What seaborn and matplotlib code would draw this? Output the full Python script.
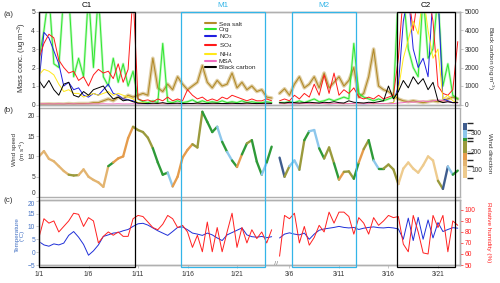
import numpy as np
import matplotlib
matplotlib.use("Agg")
import matplotlib.pyplot as plt
import matplotlib.transforms as mtransforms
from matplotlib.collections import LineCollection
from matplotlib.colors import ListedColormap, BoundaryNorm
from matplotlib.lines import Line2D
from matplotlib.patches import Rectangle
import seaborn as sns

sns.set_theme(style="ticks")
plt.rcParams["font.family"] = ["Liberation Sans", "DejaVu Sans"]
plt.rcParams["mathtext.default"] = "regular"

# --- time grids (day of month), January segment and March segment ---
JAN_DAYS = np.arange(1.0, 24.75, 0.5)
MAR_DAYS = np.arange(5.0, 23.25, 0.5)
MAR_SHIFT = 19.3  # March day -> position on the broken axis


def jan_x(d):
    return np.asarray(d, float) - 1.0


def mar_x(d):
    return np.asarray(d, float) + MAR_SHIFT


# --- panel (a): aerosol mass concentrations (ug m-3), BC in ng m-3 ---
SEASALT_JAN = [0.02, 0.02, 0.03, 0.02, 0.03, 0.02, 0.05, 0.03, 0.05, 0.05,
               0.05, 0.1, 0.1, 0.2, 0.3, 0.2, 0.4, 0.3, 0.5, 0.4,
               0.5, 0.6, 0.5, 2.5, 0.9, 0.7, 1.1, 0.8, 1.5, 1.1,
               0.8, 1.0, 1.2, 2.1, 1.2, 0.9, 1.3, 1.0, 1.1, 1.7,
               0.9, 1.2, 0.8, 1.0, 0.7, 0.8, 0.4, 0.35]
SEASALT_MAR = [0.6, 0.85, 0.5, 1.1, 1.5, 0.9, 1.1, 1.5, 0.9, 1.7,
               0.9, 1.2, 1.5, 1.0, 1.3, 2.0, 0.4, 0.6, 1.5, 3.0,
               1.0, 0.8, 0.7, 0.5, 0.3, 0.2, 0.15, 0.2, 0.15, 0.1,
               0.15, 0.2, 0.15, 0.2, 0.3, 0.4, 0.3]

ORG_JAN = [2.5, 4.0, 6.0, 2.2, 2.0, 6.0, 6.0, 1.5, 2.5, 1.5,
           6.0, 2.0, 6.0, 1.5, 1.0, 2.5, 1.2, 2.2, 1.0, 1.8,
           0.3, 0.15, 0.1, 0.2, 0.1, 3.3, 0.15, 0.1, 0.2, 0.1,
           0.15, 0.25, 0.1, 0.2, 0.1, 0.15, 0.1, 0.2, 0.1, 0.15,
           0.1, 0.2, 0.1, 0.15, 0.1, 0.1, 0.15, 0.1]
ORG_MAR = [0.1, 0.1, 0.15, 0.1, 0.2, 0.1, 0.2, 0.3, 0.15, 0.2,
           0.3, 0.2, 0.3, 0.4, 0.3, 3.3, 0.6, 0.4, 0.3, 0.2,
           0.3, 0.2, 0.3, 0.4, 6.0, 6.0, 3.0, 2.0, 1.5, 6.0,
           2.5, 3.0, 6.0, 1.0, 2.2, 0.5, 0.3]

NO3_JAN = [1.2, 3.9, 3.6, 2.9, 2.2, 1.0, 1.2, 0.8, 0.9, 0.5,
           0.4, 0.6, 0.5, 0.8, 1.1, 0.6, 0.5, 0.3, 0.25, 0.2,
           0.05, 0.05, 0.04, 0.05, 0.06, 0.05, 0.04, 0.05, 0.05, 0.04,
           0.05, 0.06, 0.05, 0.04, 0.05, 0.05, 0.06, 0.05, 0.04, 0.05,
           0.05, 0.04, 0.05, 0.05, 0.06, 0.05, 0.04, 0.05]
NO3_MAR = [0.05, 0.06, 0.05, 0.04, 0.05, 0.06, 0.05, 0.05, 0.06, 0.05,
           0.04, 0.05, 0.06, 0.05, 0.05, 0.06, 0.05, 0.04, 0.05, 0.06,
           0.05, 0.05, 0.06, 0.1, 1.0, 4.5, 6.0, 3.0, 2.0, 2.5,
           1.5, 6.0, 6.0, 0.3, 0.2, 0.1, 0.1]

SO4_JAN = [2.5, 3.3, 3.8, 3.6, 2.4, 2.0, 1.7, 1.8, 1.3, 1.5,
           1.0, 1.6, 1.9, 1.7, 1.8, 1.4, 2.2, 1.2, 1.9, 6.0,
           0.3, 0.2, 0.25, 0.15, 0.3, 0.2, 0.4, 0.2, 0.3, 0.2,
           0.8, 0.5, 0.3, 0.4, 0.2, 0.3, 0.2, 0.4, 0.3, 0.5,
           0.4, 0.3, 0.2, 0.3, 0.2, 0.2, 0.3, 0.2]
SO4_MAR = [0.2, 0.3, 0.2, 0.5, 0.3, 0.6, 0.4, 1.1, 0.5, 1.6,
           0.6, 1.7, 0.5, 0.8, 0.6, 0.9, 0.4, 0.3, 0.4, 0.3,
           0.5, 0.3, 0.4, 0.5, 2.5, 6.0, 6.0, 4.0, 6.0, 6.0,
           6.0, 4.5, 1.0, 0.6, 0.5, 0.8, 3.4]

NH4_JAN = [1.6, 1.9, 1.8, 1.6, 1.1, 0.7, 0.8, 0.6, 0.6, 0.4,
           0.5, 0.6, 0.5, 0.6, 0.7, 0.5, 0.6, 0.5, 0.4, 0.3,
           0.1, 0.08, 0.06, 0.05, 0.06, 0.05, 0.05, 0.06, 0.05, 0.05,
           0.06, 0.05, 0.05, 0.06, 0.05, 0.05, 0.06, 0.05, 0.05, 0.06,
           0.05, 0.05, 0.06, 0.05, 0.05, 0.06, 0.05, 0.05]
NH4_MAR = [0.05, 0.05, 0.06, 0.05, 0.05, 0.06, 0.05, 0.05, 0.06, 0.05,
           0.05, 0.06, 0.05, 0.05, 0.06, 0.05, 0.05, 0.06, 0.05, 0.05,
           0.06, 0.05, 0.06, 0.1, 0.8, 2.5, 3.5, 4.5, 3.8, 6.0,
           4.0, 2.5, 3.0, 0.3, 0.5, 0.2, 0.1]

MSA_JAN = [0.03, 0.04, 0.03, 0.03, 0.04, 0.03, 0.03, 0.04, 0.03, 0.03,
           0.04, 0.03, 0.03, 0.04, 0.03, 0.03, 0.04, 0.03, 0.03, 0.04,
           0.03, 0.03, 0.04, 0.03, 0.03, 0.04, 0.03, 0.03, 0.04, 0.03,
           0.03, 0.04, 0.03, 0.03, 0.04, 0.03, 0.03, 0.04, 0.03, 0.03,
           0.04, 0.03, 0.03, 0.04, 0.03, 0.03, 0.04, 0.03]
MSA_MAR = [0.05, 0.04, 0.05, 0.05, 0.04, 0.05, 0.05, 0.04, 0.05, 0.05,
           0.04, 0.05, 0.05, 0.04, 0.05, 0.05, 0.04, 0.05, 0.05, 0.04,
           0.05, 0.05, 0.04, 0.05, 0.08, 0.1, 0.15, 0.12, 0.15, 0.2,
           0.15, 0.2, 0.25, 0.2, 0.15, 0.1, 0.08]

BC_JAN = [1300, 900, 1300, 800, 500, 1100, 1200, 500, 400, 700,
          500, 800, 900, 1000, 600, 300, 400, 200, 250, 150,
          80, 60, 50, 70, 60, 100, 50, 60, 70, 50,
          60, 50, 80, 60, 50, 70, 60, 50, 60, 70,
          50, 60, 80, 60, 50, 60, 70, 60]
BC_MAR = [100, 80, 120, 100, 80, 100, 120, 100, 80, 120,
          100, 150, 100, 80, 200, 120, 100, 80, 120, 100,
          150, 200, 1000, 300, 700, 1300, 900, 1500, 1100, 1400,
          800, 1200, 200, 100, 150, 100, 120]

# --- panel (b): wind speed (m s-1) and wind direction (deg) ---
WS_JAN = [10.0, 11.3, 9.4, 8.8, 7.6, 6.4, 5.5, 5.3, 5.4, 6.8,
          5.0, 4.2, 3.6, 2.5, 7.6, 8.5, 9.5, 10.0, 14.5, 17.3,
          16.5, 16.0, 14.6, 12.0, 8.5, 5.5, 6.0, 2.6, 5.0, 9.7,
          11.6, 13.0, 12.2, 21.0, 18.5, 16.0, 17.3, 13.6, 11.1, 9.0,
          7.4, 10.5, 13.2, 14.0, 8.7, 5.5, 8.5, 12.4]
WD_JAN = [135, 135, 135, 135, 135, 135, 220, 220, 135, 135,
          135, 135, 135, 135, 262, 170, 170, 170, 170, 220,
          220, 220, 220, 262, 262, 262, 295, 170, 170, 170,
          170, 220, 220, 262, 262, 262, 295, 262, 295, 262,
          170, 262, 220, 262, 262, 295, 262, 170]
WS_MAR = [9.7, 5.0, 7.6, 9.0, 6.7, 14.0, 16.2, 16.5, 12.0, 9.5,
          12.2, 8.3, 4.3, 6.2, 6.3, 4.5, 8.5, 11.8, 14.0, 9.0,
          7.0, 7.0, 8.0, 6.8, 3.2, 7.0, 8.5, 7.0, 6.0, 7.8,
          10.0, 9.0, 4.0, 2.0, 7.5, 5.5, 6.5]
WD_MAR = [335, 220, 295, 295, 220, 262, 295, 295, 262, 220,
          220, 262, 170, 220, 220, 262, 170, 220, 262, 295,
          262, 220, 220, 220, 110, 110, 110, 110, 110, 110,
          110, 110, 220, 335, 295, 262, 262]

WD_BOUNDS = [56, 119, 155, 191, 254, 272, 317, 354]
WD_COLORS = ["#EECB8E", "#E3B470", "#E59C4C", "#9A9A3C",
             "#2E9A38", "#8DC7EC", "#3F5D8E"]

# --- panel (c): temperature (degC) and relative humidity (%) ---
T_JAN = [4.1, 2.8, 2.3, 3.2, 2.8, 3.5, 6.5, 8.0, 5.8, 3.0,
         -1.2, 0.5, 2.8, 6.1, 6.7, 7.4, 7.6, 8.3, 8.8, 10.0,
         11.0, 11.2, 10.5, 9.4, 8.3, 7.4, 6.5, 8.0, 9.6, 9.8,
         8.7, 7.4, 7.0, 6.5, 7.4, 6.7, 5.5, 4.5, 6.7, 7.6,
         8.5, 9.4, 6.7, 6.0, 5.8, 6.1, 5.6, 6.0]
T_MAR = [5.5, 7.0, 7.5, 7.0, 6.7, 7.4, 5.0, 7.0, 8.5, 9.0,
         9.3, 9.6, 10.0, 9.6, 9.4, 9.6, 8.8, 9.3, 9.6, 9.8,
         9.5, 9.4, 9.6, 9.4, 9.0, 5.0, 13.2, 4.5, 13.5, 5.0,
         12.5, 5.5, 11.5, 8.0, 8.8, 9.5, 9.3]
RH_JAN = [75, 92, 88, 90, 80, 85, 90, 97, 96, 85,
          93, 90, 70, 76, 80, 77, 80, 76, 76, 92,
          95, 94, 89, 84, 82, 87, 95, 92, 84, 86,
          80, 66, 77, 62, 89, 62, 84, 62, 80, 97,
          66, 84, 70, 82, 74, 80, 70, 82]
RH_MAR = [58, 95, 92, 97, 70, 85, 68, 75, 86, 80,
          98, 88, 98, 98, 94, 78, 93, 88, 78, 93,
          86, 90, 95, 93, 94, 69, 62, 95, 80, 61,
          60, 95, 84, 95, 62, 90, 86]

# --- periods and ticks ---
PERIODS = [  # label, (month, start day), (month, end day), color
    ("C1", (1, 1.0), (1, 10.7), "black"),
    ("M1", (1, 15.34), (1, 23.83), "#33B5E8"),
    ("M2", (3, 6.26), (3, 12.72), "#33B5E8"),
    ("C2", (3, 16.86), (3, 22.72), "black"),
]
JAN_TICKS = [1, 6, 11, 16, 21]
MAR_TICKS = [6, 11, 16, 21]
TICK_LABELS = ["1/1", "1/6", "1/11", "1/16", "1/21", "3/6", "3/11", "3/16", "3/21"]

COLORS = {
    "Sea salt": "#B38B2A",
    "Org": "#2EE62E",
    "NO3": "#1F1FE0",
    "SO4": "#FF1A1A",
    "NH4": "#FFE81A",
    "MSA": "#F06CC0",
    "BC": "black",
}
SPINE = "#B0B0B0"
TXT = "#333333"
T_BLUE = "#1F2FD8"
T_LABEL = "#4472C4"
RH_RED = "#FF2020"


def to_x(month, day):
    return float(jan_x(day)) if month == 1 else float(mar_x(day))


def draw(ax, jan_vals, mar_vals, **kw):
    for xs, ys in ((jan_x(JAN_DAYS), jan_vals), (mar_x(MAR_DAYS), mar_vals)):
        sns.lineplot(x=xs, y=np.asarray(ys, float), ax=ax, estimator=None,
                     sort=False, legend=False, **kw)


def style(ax, left_color=TXT):
    for s in ax.spines.values():
        s.set_color(SPINE)
        s.set_linewidth(1.0)
    ax.tick_params(axis="y", labelsize=4.8, length=2, width=0.5, pad=0.8,
                   colors=SPINE, labelcolor=left_color)
    ax.tick_params(axis="x", bottom=False, labelbottom=False)


def fy(py):
    return 1 - py / 283.0


fig = plt.figure(figsize=(5.0, 2.83), dpi=100)
L, W = 39 / 500, 421.5 / 500
ax_a = fig.add_axes([L, fy(104.5), W, fy(12) - fy(104.5)])
ax_b = fig.add_axes([L, fy(197), W, fy(107.5) - fy(197)], sharex=ax_a)
ax_c = fig.add_axes([L, fy(265), W, fy(200) - fy(265)], sharex=ax_a)
XMAX = (460.5 - 39) / 9.9

# ---- panel (a)
draw(ax_a, SEASALT_JAN, SEASALT_MAR, color=COLORS["Sea salt"], linewidth=2.6, alpha=0.4)
draw(ax_a, SEASALT_JAN, SEASALT_MAR, color=COLORS["Sea salt"], linewidth=0.8)
draw(ax_a, ORG_JAN, ORG_MAR, color=COLORS["Org"], linewidth=1.8, alpha=0.3)
draw(ax_a, ORG_JAN, ORG_MAR, color=COLORS["Org"], linewidth=0.7)
draw(ax_a, NO3_JAN, NO3_MAR, color=COLORS["NO3"], linewidth=0.7)
draw(ax_a, SO4_JAN, SO4_MAR, color=COLORS["SO4"], linewidth=0.7)
draw(ax_a, NH4_JAN, NH4_MAR, color=COLORS["NH4"], linewidth=0.7)
draw(ax_a, MSA_JAN, MSA_MAR, color=COLORS["MSA"], linewidth=0.7)
ax_a.set_xlim(0, XMAX)
ax_a.set_ylim(0, 5)
ax_a.set_yticks([0, 1, 2, 3, 4, 5])
ax_a.set_ylabel("")
style(ax_a)

ax_a2 = ax_a.twinx()
draw(ax_a2, BC_JAN, BC_MAR, color=COLORS["BC"], linewidth=0.7)
ax_a2.set_ylim(0, 5000)
ax_a2.set_yticks([0, 1000, 2000, 3000, 4000, 5000])
ax_a2.set_ylabel("")
style(ax_a2)

handles = [Line2D([], [], color=COLORS[k], lw=1.5) for k in COLORS]
labels = ["Sea salt", "Org", "NO$_3$", "SO$_4$", "NH$_4$", "MSA", "Black carbon"]
ax_a2.legend(handles, labels, loc="upper left", bbox_to_anchor=(0.395, 0.9),
             frameon=False, fontsize=4.6, handlelength=1.6, handletextpad=0.45,
             labelspacing=0.0, borderpad=0, borderaxespad=0)

# ---- panel (b): wind speed coloured by wind direction
cmap = ListedColormap(WD_COLORS)
norm = BoundaryNorm(WD_BOUNDS, cmap.N)
for xs, ws, wd in ((jan_x(JAN_DAYS), WS_JAN, WD_JAN), (mar_x(MAR_DAYS), WS_MAR, WD_MAR)):
    pts = np.column_stack([xs, np.asarray(ws, float)])
    segs = np.stack([pts[:-1], pts[1:]], axis=1)
    lc = LineCollection(segs, cmap=cmap, norm=norm, linewidth=1.7, capstyle="round")
    lc.set_array(np.asarray(wd[:-1], float))
    ax_b.add_collection(lc)
ax_b.set_ylim(0, 22.05)
ax_b.set_yticks([0, 5, 10, 15, 20])
style(ax_b)

cax = fig.add_axes([463 / 500, fy(178), 4 / 500, fy(123) - fy(178)])
cb = fig.colorbar(plt.cm.ScalarMappable(norm=norm, cmap=cmap), cax=cax,
                  spacing="proportional", ticks=[100, 200, 300])
cb.outline.set_visible(False)
cax.tick_params(labelsize=4.8, length=2, width=0.5, pad=1, colors=SPINE, labelcolor=TXT)

# ---- panel (c): temperature and RH
draw(ax_c, T_JAN, T_MAR, color=T_BLUE, linewidth=0.7)
ax_c.set_ylim(-5, 20.25)
ax_c.set_yticks([-5, 0, 5, 10, 15, 20])
ax_c.set_ylabel("")
style(ax_c, left_color=T_LABEL)
ax_c2 = ax_c.twinx()
draw(ax_c2, RH_JAN, RH_MAR, color=RH_RED, linewidth=0.7)
ax_c2.set_ylim(50, 109)
ax_c2.set_yticks([50, 60, 70, 80, 90, 100])
ax_c2.set_ylabel("")
style(ax_c2, left_color=RH_RED)
ax_c2.tick_params(axis="y", colors=RH_RED)

# keep the panel (b) "0" and panel (c) "20" labels apart
fig.canvas.draw()
ax_b.get_yticklabels()[0].set_va("bottom")
ax_c.get_yticklabels()[-1].set_va("top")

tick_pos = list(jan_x(JAN_TICKS)) + list(mar_x(MAR_TICKS))
ax_c.set_xticks(tick_pos)
ax_c.set_xticklabels(TICK_LABELS)
ax_c.tick_params(axis="x", bottom=True, labelbottom=True, labelsize=4.8,
                 length=2, width=0.5, pad=2.5, colors=SPINE, labelcolor=TXT)
ax_c.set_xlim(0, XMAX)

x_break = (float(jan_x(24.8)) + float(mar_x(4.8))) / 2
brk = mtransforms.blended_transform_factory(ax_c.transData, ax_c.transAxes)
ax_c.text(x_break, 0, "//", transform=brk, ha="center", va="center",
          fontsize=5, color="#777777", clip_on=False)

# ---- period boxes spanning all panels
box_tr = mtransforms.blended_transform_factory(ax_c.transData, fig.transFigure)
lab_tr = mtransforms.blended_transform_factory(ax_a.transData, ax_a.transAxes)
for name, (m0, d0), (m1, d1), col in PERIODS:
    x0, x1 = to_x(m0, d0), to_x(m1, d1)
    fig.add_artist(Rectangle((x0, fy(266.5)), x1 - x0, fy(12) - fy(266.5),
                             transform=box_tr, fill=False, edgecolor=col,
                             linewidth=0.9, clip_on=False))
    ax_a.text((x0 + x1) / 2, 1.065, name, transform=lab_tr, ha="center",
              va="center", fontsize=5.8, color=col)

# ---- labels
fig.text(4 / 500, fy(15), "(a)", fontsize=5.8, ha="left", va="center", color=TXT)
fig.text(4 / 500, fy(111), "(b)", fontsize=5.8, ha="left", va="center", color=TXT)
fig.text(4 / 500, fy(201), "(c)", fontsize=5.8, ha="left", va="center", color=TXT)
fig.text(22 / 500, fy(58), "Mass conc. (ug m$^{-3}$)", rotation=90, fontsize=5.5,
         ha="center", va="center", color=TXT)
fig.text(20 / 500, fy(150), "Wind speed\n(m s$^{-1}$)", rotation=90, fontsize=4.5,
         ha="center", va="center", color=TXT, linespacing=1.05)
fig.text(20 / 500, fy(235), "Temperature\n(°C)", rotation=90, fontsize=4.5,
         ha="center", va="center", color=T_LABEL, linespacing=1.05)
fig.text(490 / 500, fy(58), "Black carbon (ng m$^{-3}$)", rotation=270, fontsize=4.6,
         ha="center", va="center", color=TXT)
fig.text(490 / 500, fy(153), "Wind direction", rotation=270, fontsize=4.6,
         ha="center", va="center", color=TXT)
fig.text(489 / 500, fy(232), "Relative humidity (%)", rotation=270, fontsize=4.6,
         ha="center", va="center", color=RH_RED)

fig.savefig("out.png", dpi=100)
